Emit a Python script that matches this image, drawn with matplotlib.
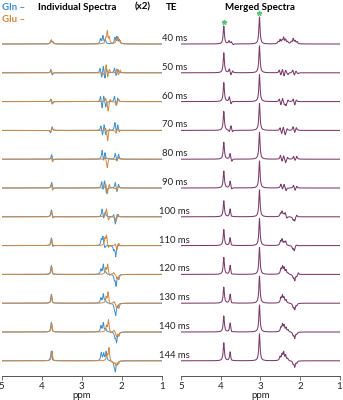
import numpy as np
import matplotlib
matplotlib.use("Agg")
import matplotlib.pyplot as plt

plt.rcParams['font.family'] = ['Lato', 'DejaVu Sans']

te_labels = ["40 ms", "50 ms", "60 ms", "70 ms", "80 ms", "90 ms", "100 ms",
             "110 ms", "120 ms", "130 ms", "140 ms", "144 ms"]

# Individual spectra: (ppm, height) lines per TE, heights in display px
gln_lines = [
    [(3.77, 3), (3.73, 2), (2.53, 5), (2.47, 8), (2.41, 4), (2.17, 6), (2.12, 7), (2.06, 4)],
    [(3.77, 4), (3.74, -3), (2.54, 5), (2.50, -6), (2.46, 8), (2.42, -7), (2.38, 4), (2.18, 5), (2.14, -4), (2.10, 4)],
    [(3.77, 3), (3.74, -3), (2.53, 6), (2.49, -8), (2.45, 7), (2.40, -6), (2.18, 6), (2.14, -5), (2.10, 4)],
    [(3.78, -3), (3.74, 4), (2.52, 5), (2.48, -6), (2.44, 7), (2.40, -5), (2.17, 8), (2.13, -3), (2.10, 6), (2.06, -2)],
    [(3.75, 5), (3.72, -2), (2.49, 9), (2.45, -4), (2.42, 7), (2.16, 6), (2.12, -3), (2.08, 5)],
    [(3.75, 6), (3.72, -2), (2.50, 7), (2.47, -4), (2.43, 8), (2.38, -6), (2.16, 6), (2.12, -5), (2.08, 4)],
    [(3.76, 7), (3.72, -2), (2.49, 8), (2.45, -3), (2.41, 5), (2.20, 3), (2.16, -8), (2.11, 3)],
    [(3.76, 8), (3.72, -2), (2.51, 6), (2.47, 9), (2.42, -3), (2.20, -4), (2.15, -11), (2.10, 2)],
    [(3.76, 9), (3.73, -1), (2.52, 5), (2.46, 10), (2.40, 2), (2.18, -5), (2.14, -11), (2.09, -3)],
    [(3.76, 9), (3.73, -1), (2.52, 5), (2.46, 9), (2.41, 3), (2.18, -5), (2.15, -11), (2.10, -3)],
    [(3.76, 10), (3.73, -1), (2.52, 6), (2.46, 9), (2.40, 3), (2.17, -5), (2.13, -10), (2.08, -3)],
    [(3.76, 10), (3.73, -1), (2.51, 8), (2.45, 7), (2.39, 9), (2.19, -4), (2.16, -10), (2.11, -3)],
]
glu_lines = [
    [(3.76, 4), (3.72, 2), (2.40, 5), (2.36, 12), (2.31, 6), (2.14, 4), (2.09, 6), (2.04, 3)],
    [(3.76, 3), (3.73, -2), (2.44, -3), (2.39, 9), (2.35, -6), (2.31, 4), (2.12, 4), (2.08, -3), (2.04, 3)],
    [(3.76, 3), (3.73, -3), (2.40, 4), (2.34, -10), (2.29, 3), (2.13, -4), (2.08, 3)],
    [(3.77, -2), (3.74, 3), (2.40, 3), (2.35, -11), (2.31, 3), (2.14, -3), (2.10, 2)],
    [(3.76, 2), (3.73, -3), (2.42, 3), (2.36, -9), (2.31, 2), (2.12, -2), (2.08, 2)],
    [(3.76, 4), (3.73, -3), (2.40, 5), (2.36, -7), (2.31, 4), (2.12, -3), (2.08, 2)],
    [(3.75, 6), (3.72, -2), (2.43, 3), (2.38, 8), (2.33, -4), (2.14, -5), (2.09, 3)],
    [(3.75, 7), (3.72, -1), (2.42, 7), (2.38, 10), (2.33, -3), (2.16, 2), (2.12, -5), (2.08, 3)],
    [(3.75, 8), (3.72, -1), (2.40, 6), (2.35, 10), (2.30, -2), (2.20, 2), (2.12, -4), (2.07, -5)],
    [(3.75, 8), (3.72, -1), (2.39, 6), (2.34, 11), (2.29, -2), (2.19, 2), (2.13, -5), (2.07, -5)],
    [(3.75, 9), (3.72, -1), (2.38, 6), (2.33, 12), (2.28, -2), (2.19, 2), (2.13, -5), (2.07, -4)],
    [(3.74, 10), (3.71, -1), (2.37, 6), (2.32, 13), (2.26, -2), (2.20, -3), (2.14, -5), (2.08, -3)],
]

# Merged spectra
cr2_height = [18, 20, 19, 19, 17, 17, 16, 16, 17, 16, 16, 18]
cr3_height = [27, 27, 27, 27, 27, 27, 27, 27, 27, 27, 27, 27]
glx_lines = [
    [(3.79, 3), (3.73, 2), (3.68, -1), (2.55, 2), (2.50, 4), (2.45, 3), (2.41, 6), (2.36, 4), (2.31, 2), (2.22, 2), (2.17, 5), (2.12, 3), (2.07, 2)],
    [(3.78, 4), (3.74, -3), (3.70, 2), (2.52, 3), (2.48, -3), (2.44, 4), (2.40, -4), (2.36, 3), (2.30, -2), (2.18, 3), (2.14, -3), (2.10, 2), (2.05, -1)],
    [(3.78, 5), (3.74, -3), (2.52, 3), (2.48, -4), (2.44, 4), (2.39, -3), (2.35, -4), (2.30, 2), (2.17, 3), (2.13, -4), (2.09, 2)],
    [(3.78, -2), (3.74, 5), (3.70, -2), (2.50, 3), (2.46, -4), (2.42, 4), (2.37, -5), (2.32, 2), (2.17, 4), (2.13, -3), (2.09, 3)],
    [(3.76, 6), (3.72, -3), (2.49, 4), (2.45, -3), (2.41, 4), (2.36, -4), (2.31, 2), (2.16, 3), (2.12, -2), (2.08, 3)],
    [(3.76, 7), (3.72, -2), (2.48, 4), (2.44, -2), (2.40, 4), (2.35, -3), (2.16, 3), (2.12, -3), (2.08, 2)],
    [(3.76, 8), (3.73, -1), (2.49, 3), (2.45, 5), (2.41, 2), (2.37, 4), (2.33, -2), (2.17, -3), (2.13, -4), (2.08, 2)],
    [(3.76, 8), (3.73, -1), (2.49, 4), (2.45, 6), (2.40, 3), (2.36, 4), (2.18, -3), (2.14, -5), (2.09, 1)],
    [(3.76, 9), (3.72, -1), (2.48, 5), (2.44, 7), (2.40, 6), (2.35, 4), (2.30, 1), (2.17, -3), (2.13, -6), (2.08, -2), (2.04, 2)],
    [(3.76, 9), (3.72, -1), (2.48, 5), (2.44, 7), (2.40, 5), (2.35, 3), (2.17, -4), (2.13, -6), (2.08, -2)],
    [(3.76, 9), (3.72, -1), (2.48, 4), (2.44, 7), (2.40, 6), (2.35, 4), (2.30, 2), (2.17, -3), (2.13, -6), (2.08, -2)],
    [(3.76, 9), (3.73, -1), (2.50, 4), (2.45, 6), (2.41, 8), (2.36, 5), (2.31, 2), (2.17, -3), (2.13, -6), (2.08, -2)],
]
cr2_ppm = 3.92
cr3_ppm = 3.02
ppm_ticks = [5, 4, 3, 2, 1]

BLUE = "#3d8fd1"
ORANGE = "#d3883f"
PURPLE = "#7a3a6c"
GREEN = "#5cc47f"

x = np.linspace(5, 1, 3000)


def spectrum(lines, w=0.017):
    y = np.zeros_like(x)
    for p, h in lines:
        y += h / (1 + ((x - p) / w) ** 2)
    return y


fig = plt.figure(figsize=(3.43, 4.0), dpi=100)
W, H = 343.0, 400.0
bottom_px = 376.0
top_px = 10.0
axL = fig.add_axes([1.7 / W, (H - bottom_px) / H, (161.7 - 1.7) / W, (bottom_px - top_px) / H])
axR = fig.add_axes([181.0 / W, (H - bottom_px) / H, (339.5 - 181.0) / W, (bottom_px - top_px) / H])

row0 = 44.0
step = 28.8


def base(i):
    return bottom_px - (row0 + step * i)


for i in range(len(te_labels)):
    b = base(i)
    axL.plot(x, b + spectrum(gln_lines[i]), color=BLUE, lw=0.7)
    axL.plot(x, b + spectrum(glu_lines[i]), color=ORANGE, lw=0.7)
    merged = spectrum([(cr2_ppm, cr2_height[i]), (cr3_ppm, cr3_height[i])], w=0.018) + spectrum(glx_lines[i])
    axR.plot(x, b + merged, color=PURPLE, lw=0.75)
    fig.text(174.5 / W, (H - (row0 + step * i) + 5.5) / H, te_labels[i],
             ha='center', va='center', fontsize=6.8, color='#222222')

# asterisks on top row
axR.plot([cr2_ppm, cr3_ppm], [base(0) + cr2_height[0] + 4, base(0) + cr3_height[0] + 4],
         linestyle='none', marker='*', markersize=3.5, color=GREEN, clip_on=False)

for ax in (axL, axR):
    ax.set_xlim(5, 1)
    ax.set_ylim(0, bottom_px - top_px)
    for s in ('top', 'left', 'right'):
        ax.spines[s].set_visible(False)
    ax.spines['bottom'].set_color('#555555')
    ax.spines['bottom'].set_linewidth(0.7)
    ax.set_yticks([])
    ax.set_xticks(ppm_ticks)
    ax.set_xticklabels([str(t) for t in ppm_ticks])
    ax.tick_params(axis='x', direction='out', length=3, width=0.6, color='#555555',
                   labelsize=7, pad=1, labelcolor='#222222')
    ax.set_xlabel("ppm", fontsize=7, labelpad=0, color='#222222')
    ax.patch.set_alpha(0)

# header
fig.text(2 / W, 1 - 7 / H, "Gln –", color=BLUE, fontsize=7, fontweight='bold', ha='left', va='center')
fig.text(2 / W, 1 - 20 / H, "Glu –", color=ORANGE, fontsize=7, fontweight='bold', ha='left', va='center')
fig.text(77 / W, 1 - 7 / H, "Individual Spectra", fontsize=7, fontweight='bold', ha='center', va='center')
fig.text(143 / W, 1 - 7 / H, "(x2)", fontsize=7, fontweight='bold', ha='center', va='center')
fig.text(172 / W, 1 - 7 / H, "TE", fontsize=7, fontweight='bold', ha='center', va='center')
fig.text(260 / W, 1 - 7 / H, "Merged Spectra", fontsize=7, fontweight='bold', ha='center', va='center')

fig.savefig("out.png", dpi=100)
